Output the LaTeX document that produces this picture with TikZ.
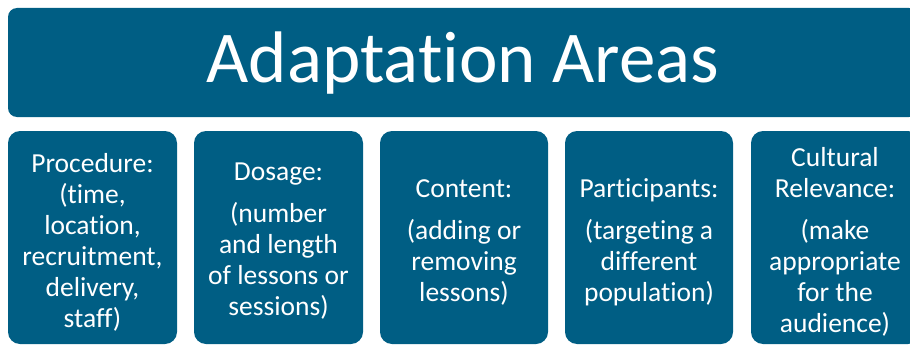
\documentclass[tikz,border=0pt]{standalone}
\usepackage{fontspec}
\setmainfont[Ligatures={NoCommon,NoRare}]{Carlito}
\definecolor{areablue}{RGB}{0,94,132}
\begin{document}
\begin{tikzpicture}[x=1pt,y=-1pt,
  banner/.style={fill=areablue, rounded corners=9pt},
  areabox/.style={fill=areablue, rounded corners=12pt},
  areatext/.style={text=white, align=center, inner sep=0pt, font=\fontsize{27.5}{31}\selectfont}
]
\useasboundingbox (0,0) rectangle (910,345);
\begin{scope}
\clip (0,0) rectangle (910,345);
\fill[banner] (8,8) rectangle (918,117);
\fill[areabox] (8,131) rectangle (177,344);
\fill[areabox] (194,131) rectangle (363,344);
\fill[areabox] (380,131) rectangle (548,344);
\fill[areabox] (565,131) rectangle (733,344);
\fill[areabox] (751,131) rectangle (920,344);
\end{scope}
\node[text=white, inner sep=0pt, font=\fontsize{73}{80}\selectfont] (title) at (463,63) {Adaptation Areas};
\node[areatext] (proc) at (92.5,242) {Procedure:\\(time,\\location,\\recruitment,\\delivery,\\staff)};
\node[areatext] (dose) at (278.5,241) {Dosage:\\[11pt](number\\and length\\of lessons or\\sessions)};
\node[areatext] (cont) at (464,242) {Content:\\[11pt](adding or\\removing\\lessons)};
\node[areatext] (part) at (649,242) {Participants:\\[11pt](targeting a\\different\\population)};
\node[areatext] (cult) at (835,242) {Cultural\\Relevance:\\[11pt](make\\appropriate\\for the\\audience)};
\end{tikzpicture}
\end{document}
